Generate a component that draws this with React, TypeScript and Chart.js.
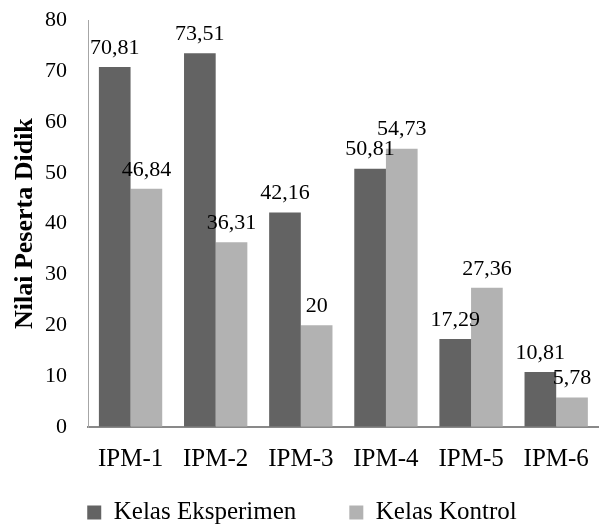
import React, { useEffect, useRef } from "react";
import { Chart, registerables } from "chart.js";

Chart.register(...registerables);

const categories = ["IPM-1", "IPM-2", "IPM-3", "IPM-4", "IPM-5", "IPM-6"];
const eksperimen = [70.81, 73.51, 42.16, 50.81, 17.29, 10.81];
const kontrol = [46.84, 36.31, 20, 54.73, 27.36, 5.78];
const seriesNames = ["Kelas Eksperimen", "Kelas Kontrol"];
const yTitle = "Nilai Peserta Didik";

const FONT = "'Liberation Serif', 'Times New Roman', serif";

const dataLabels = {
  id: "dataLabels",
  afterDatasetsDraw(chart: any) {
    const ctx = chart.ctx;
    ctx.save();
    ctx.font = `22px ${FONT}`;
    ctx.fillStyle = "#000";
    ctx.textAlign = "center";
    ctx.textBaseline = "bottom";
    chart.data.datasets.forEach((ds: any, di: number) => {
      const meta = chart.getDatasetMeta(di);
      meta.data.forEach((bar: any, i: number) => {
        const v = ds.data[i];
        const txt = String(v).replace(".", ",");
        ctx.fillText(txt, bar.x, bar.y - 8);
      });
    });
    ctx.restore();
  },
};

export default function App() {
  const ref = useRef<HTMLCanvasElement>(null);
  useEffect(() => {
    if (!ref.current) return;
    const chart = new Chart(ref.current, {
      type: "bar",
      data: {
        labels: categories,
        datasets: [
          {
            label: seriesNames[0],
            data: eksperimen,
            backgroundColor: "#636363",
            borderWidth: 0,
            categoryPercentage: 0.744,
            barPercentage: 1,
          },
          {
            label: seriesNames[1],
            data: kontrol,
            backgroundColor: "#b2b2b2",
            borderWidth: 0,
            categoryPercentage: 0.744,
            barPercentage: 1,
          },
        ],
      },
      options: {
        animation: false,
        responsive: false,
        devicePixelRatio: 1,
        layout: { padding: { left: 0, right: 2, top: 20, bottom: 0 } },
        plugins: {
          tooltip: { enabled: false },
          legend: {
            position: "bottom",
            maxHeight: 57,
            labels: {
              font: { family: FONT, size: 25 },
              color: "#000",
              boxWidth: 14,
              boxHeight: 14,
              padding: 28,
              generateLabels(chart: any) {
                const items = Chart.defaults.plugins.legend.labels.generateLabels(chart);
                return items.map((it: any, i: number) =>
                  i < items.length - 1 ? { ...it, text: it.text + "\u2002\u2002" } : it
                );
              },
            },
          },
        },
        scales: {
          x: {
            grid: { color: "transparent", drawTicks: false },
            border: { display: true, color: "#898989", width: 2 },
            ticks: {
              font: { family: FONT, size: 25 },
              color: "#000",
              padding: 17,
              maxRotation: 0,
            },
            afterFit(scale: any) {
              scale.height = 45;
            },
          },
          y: {
            min: 0,
            max: 80,
            grid: {
              color: "transparent",
              drawTicks: true,
              tickLength: 14,
              tickColor: "transparent",
            },
            border: { display: true, color: "#a6a6a6", width: 1 },
            ticks: {
              stepSize: 10,
              font: { family: FONT, size: 22 },
              color: "#000",
              padding: 7,
            },
            title: {
              display: true,
              text: yTitle,
              font: { family: FONT, size: 26, weight: "bold" },
              color: "#000",
              padding: { top: 10, bottom: 0 },
            },
            afterFit(scale: any) {
              scale.width = 88;
            },
          },
        },
      },
      plugins: [dataLabels],
    });
    return () => chart.destroy();
  }, []);
  return (
    <div
      style={{
        position: "fixed",
        left: 0,
        top: 0,
        width: 600,
        height: 529,
        overflow: "hidden",
        background: "#fff",
      }}
    >
      <canvas ref={ref} width={606} height={529} />
    </div>
  );
}
